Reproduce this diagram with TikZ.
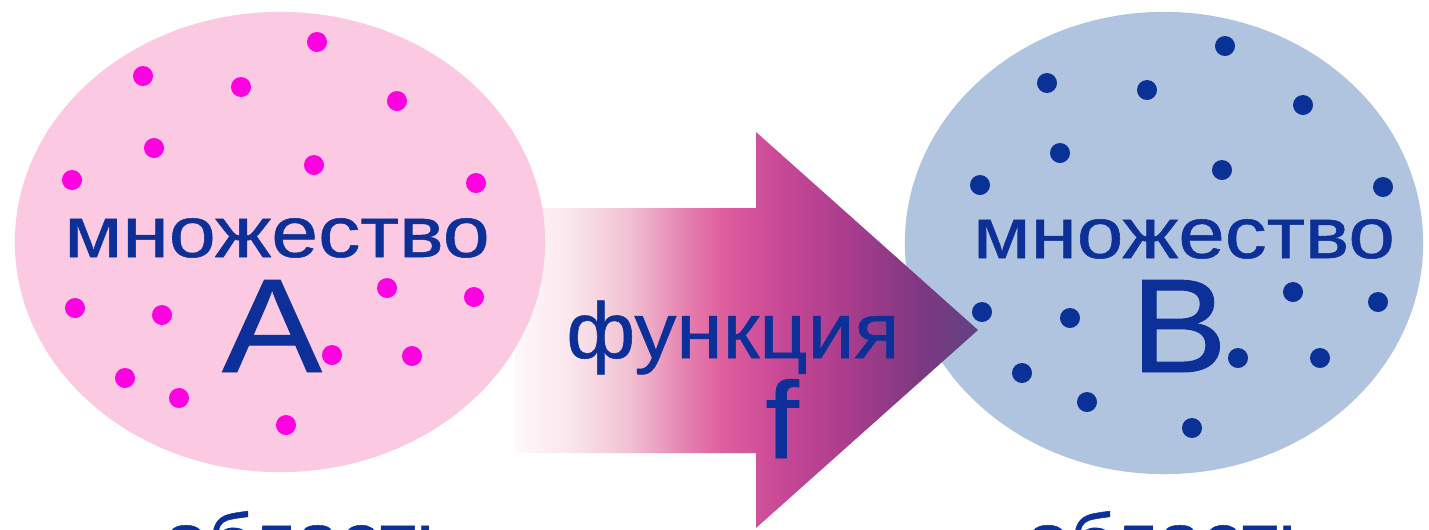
\documentclass[tikz,border=0pt]{standalone}
\usepackage{fontspec}
\usepackage{graphicx}
\setmainfont[FakeBold=0.7,BoldFont={Liberation Sans}]{Liberation Sans}
\newfontfamily\heavy[FakeBold=0.7]{Liberation Sans}
\usetikzlibrary{shapes.geometric}
\definecolor{txtblue}{RGB}{12,48,152}
\definecolor{pinkA}{RGB}{251,202,226}
\definecolor{dotA}{RGB}{255,0,225}
\definecolor{blueB}{RGB}{176,196,224}
\definecolor{dotB}{RGB}{10,50,150}
\definecolor{ar0}{RGB}{255,250,251}
\definecolor{ar1}{RGB}{250,230,236}
\definecolor{ar2}{RGB}{241,192,210}
\definecolor{ar3}{RGB}{230,128,175}
\definecolor{ar4}{RGB}{222,96,158}
\definecolor{ar5}{RGB}{200,72,150}
\definecolor{ar6}{RGB}{168,60,140}
\definecolor{ar7}{RGB}{125,56,130}
\definecolor{ar8}{RGB}{95,66,130}
\tikzset{
  setshape/.style={ellipse, draw=none, inner sep=0pt},
  ptA/.style={fill=dotA},
  ptB/.style={fill=dotB},
  lbl/.style={text=txtblue, inner sep=0pt, anchor=base, font=\heavy},
}
\newcommand{\fsz}[1]{\fontsize{#1}{#1}\selectfont}
\newcommand{\wide}[2]{\scalebox{#1}[1]{#2}}
\begin{document}
\begin{tikzpicture}[x=0.01cm, y=-0.01cm]
\useasboundingbox (0,0) rectangle (1429,529);
\clip (0,0) rectangle (1429,529);
\fill[white] (0,0) rectangle (1429,529);
% set B
\node[setshape, fill=blueB, minimum width=5.18cm, minimum height=4.62cm] (setB) at (1164,243) {};
% arrow
\begin{scope}
\clip (515,208) -- (756,208) -- (756,132) -- (978,330) -- (756,528) -- (756,453) -- (515,453) -- cycle;
\shade[left color=ar0, right color=ar1] (510,100) rectangle (571,560);
\shade[left color=ar1, right color=ar2] (570,100) rectangle (631,560);
\shade[left color=ar2, right color=ar3] (630,100) rectangle (686,560);
\shade[left color=ar3, right color=ar4] (685,100) rectangle (721,560);
\shade[left color=ar4, right color=ar5] (720,100) rectangle (781,560);
\shade[left color=ar5, right color=ar6] (780,100) rectangle (851,560);
\shade[left color=ar6, right color=ar7] (850,100) rectangle (921,560);
\shade[left color=ar7, right color=ar8] (920,100) rectangle (980,560);
\end{scope}
% set A
\node[setshape, fill=pinkA, minimum width=5.3cm, minimum height=4.6cm] (setA) at (280,242) {};
% dots A
\foreach \p in {(317,42),(143,76),(241,87),(397,101),(154,148),(314,165),(72,180),(476,183),(75,308),(162,315),(387,288),(474,297),(332,355),(412,356),(125,378),(179,398),(286,425)}
  \fill[ptA] \p circle[radius=0.1cm];
% dots B
\foreach \p in {(1225,46),(1047,83),(1147,90),(1303,105),(1060,153),(1222,170),(980,185),(1383,187),(1293,292),(1378,302),(982,312),(1070,318),(1238,358),(1320,358),(1022,373),(1087,402),(1192,428)}
  \fill[ptB] \p circle[radius=0.1cm];
% labels
\node[lbl] (tA) at (277,257) {\fsz{20.5pt}\wide{1.17}{множество}};
\node[lbl] (lA) at (272,372) {\fsz{38pt}\wide{1.12}{A}};
\node[lbl] (tB) at (1184,258) {\fsz{20.5pt}\wide{1.16}{множество}};
\node[lbl] (lB) at (1179,372) {\fsz{38pt}\wide{1.08}{B}};
\node[lbl] (tf) at (733,358) {\fsz{22.5pt}\wide{1.06}{функция}};
\node[lbl] (lf) at (782,458) {\fsz{31pt}\wide{1.1}{f}};
\node[lbl, anchor=base west] (oA) at (163,564) {\fsz{20.5pt}\wide{1.1}{область}};
\node[lbl, anchor=base west] (oB) at (1025,564) {\fsz{20.5pt}\wide{1.1}{область}};
\end{tikzpicture}
\end{document}
